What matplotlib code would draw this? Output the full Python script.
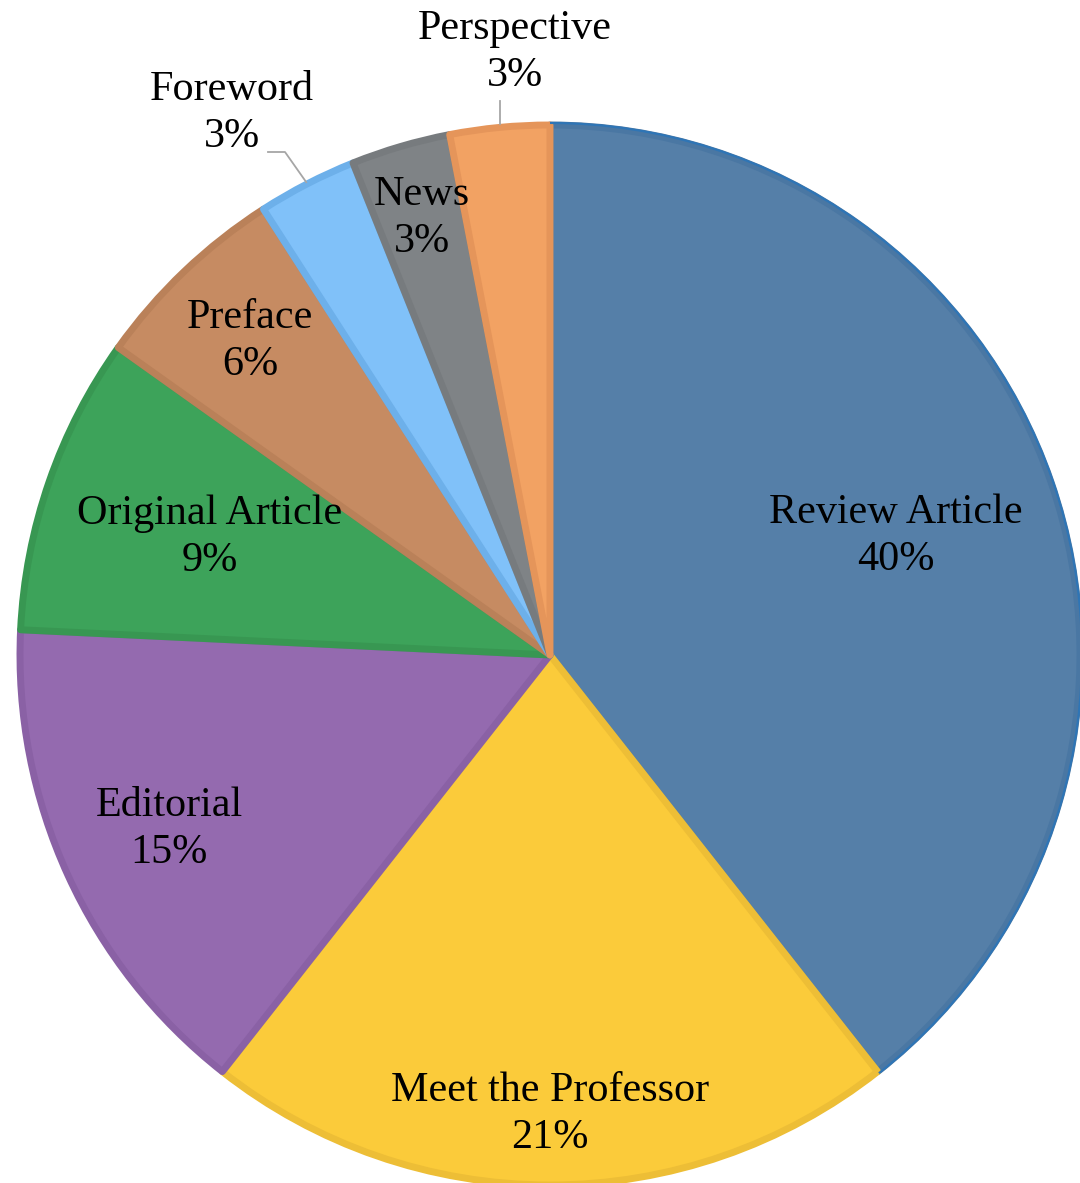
import matplotlib.pyplot as plt
from matplotlib.patches import Arc
import numpy as np

# article counts per type (percent labels as printed on the chart)
categories = ['Review Article', 'Meet the Professor', 'Editorial', 'Original Article',
              'Preface', 'Foreword', 'News', 'Perspective']
counts = [13, 7, 5, 3, 2, 1, 1, 1]
pct_labels = ['40%', '21%', '15%', '9%', '6%', '3%', '3%', '3%']

fills = ['#557FA8', '#FBCB3A', '#946AAF', '#3DA35A', '#C68B62', '#80C1F9', '#7F8386', '#F2A263']
edges = ['#4A77A3', '#EDBE36', '#8A61A5', '#389752', '#BA8159', '#6DB0EA', '#777B7E', '#E5955A']

# label distance as a fraction of the radius (layout only); None -> outside label
label_dist = [0.69, 0.865, 0.79, 0.68, 0.82, None, 0.86, None]

W, H = 1080, 1183
cx, cy = 550, H - 655
R = 530

# outside label positions (pixels from top-left) and leader line points
outside = {
    5: ((232, 113), [(None, None), (285, 152), (268, 152)]),
    7: ((515, 52), [(500, 124), (500, 101)]),
}

plt.rcParams['font.family'] = ['Liberation Serif', 'DejaVu Serif']

fig = plt.figure(figsize=(W / 100, H / 100), dpi=100)
ax = fig.add_axes([0, 0, 1, 1])

wedges, _ = ax.pie(counts, colors=fills, startangle=90, counterclock=False,
                   center=(cx, cy), radius=R,
                   wedgeprops=dict(linewidth=5, joinstyle='round'))
for w, ec in zip(wedges, edges):
    w.set_edgecolor(ec)

# thin bright rim on the review slice
rim = Arc((cx, cy), 2 * (R + 2), 2 * (R + 2),
          theta1=wedges[0].theta1, theta2=wedges[0].theta2,
          color='#2E75B6', lw=1.5)
ax.add_patch(rim)

fs = 30.3
for i, w in enumerate(wedges):
    ang = np.deg2rad((w.theta1 + w.theta2) / 2)
    if label_dist[i] is None:
        (px, py), pts = outside[i]
        lx, ly = px, H - py
        xs, ys = [], []
        for x, y in pts:
            if x is None:
                xs.append(cx + (R + 2) * np.cos(ang))
                ys.append(cy + (R + 2) * np.sin(ang))
            else:
                xs.append(x)
                ys.append(H - y)
        ax.plot(xs, ys, color='#A6A6A6', lw=1.3, zorder=3)
    else:
        lx = cx + label_dist[i] * R * np.cos(ang)
        ly = cy + label_dist[i] * R * np.sin(ang)
    ax.text(lx, ly + 23, categories[i], ha='center', va='center', fontsize=fs, color='black')
    ax.text(lx, ly - 24, pct_labels[i], ha='center', va='center', fontsize=fs, color='black')

ax.set_xlim(0, W)
ax.set_ylim(0, H)
ax.axis('off')

plt.savefig('out.png', dpi=100)
